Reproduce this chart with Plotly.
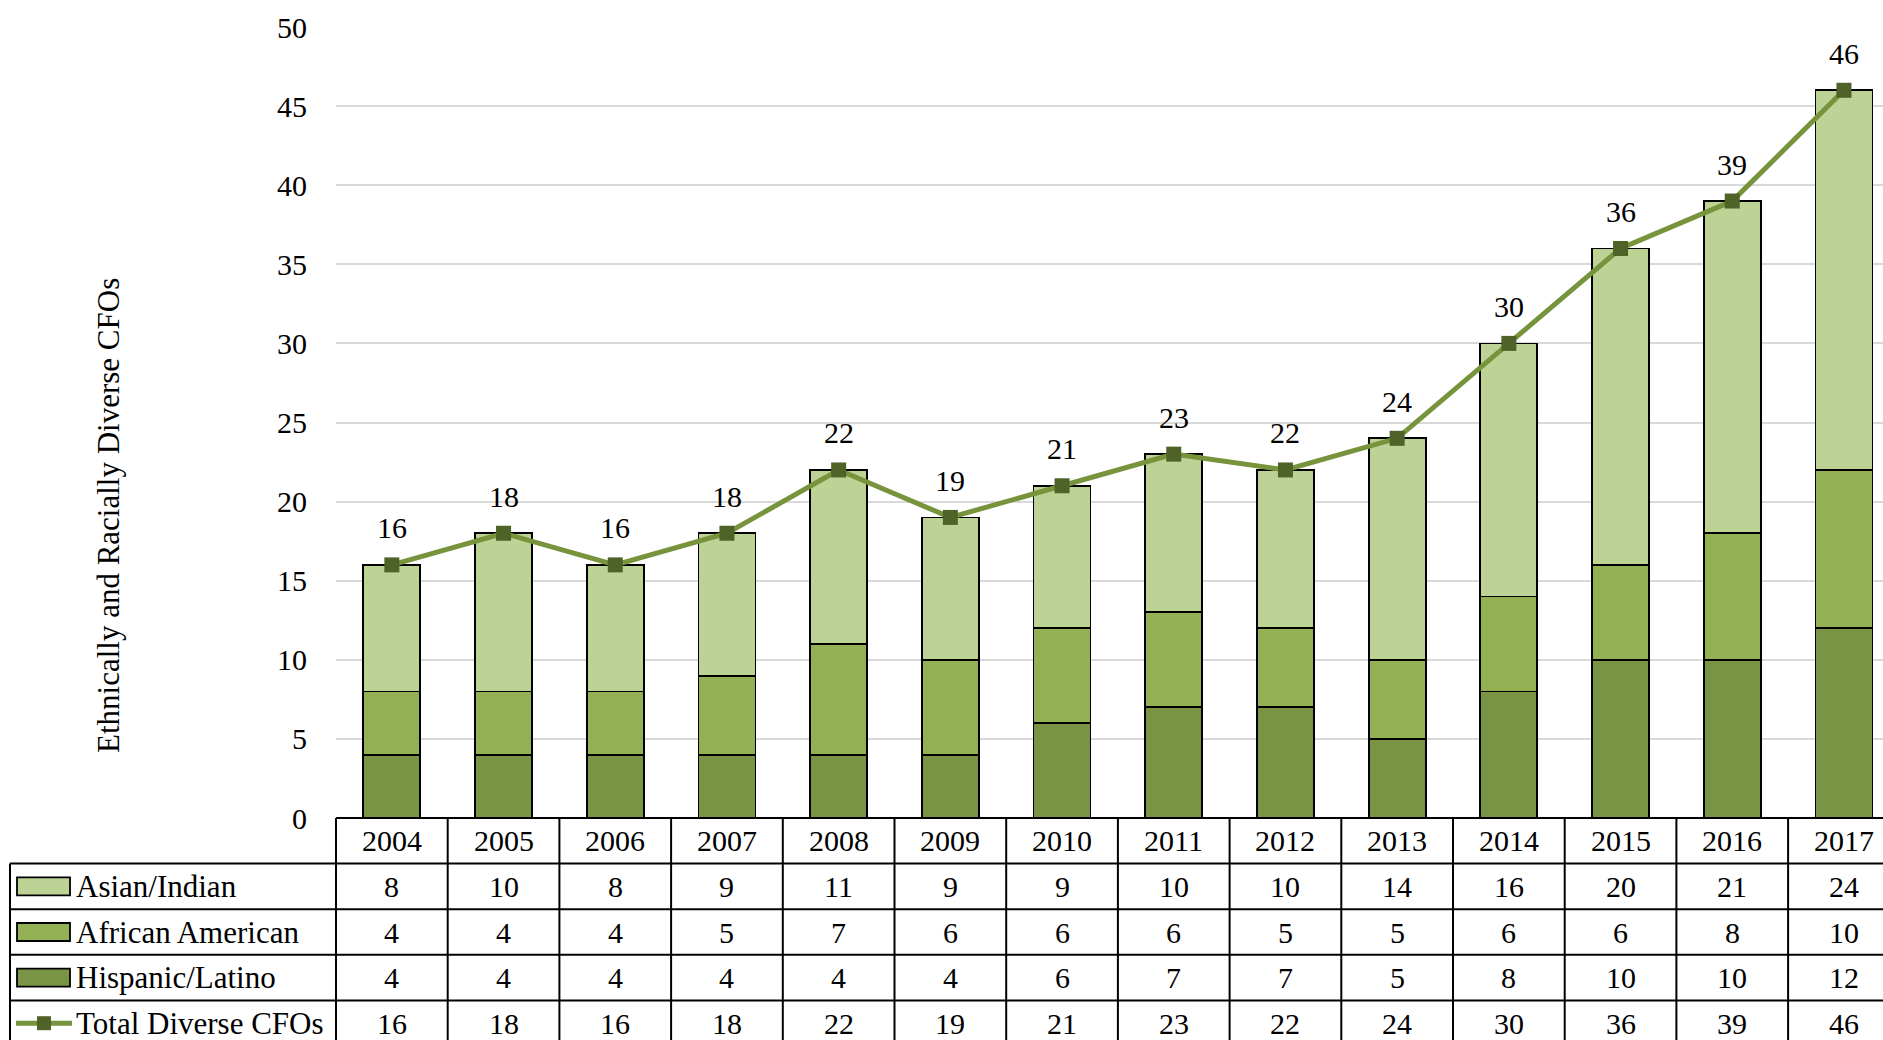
import plotly.graph_objects as go

# ---- data -------------------------------------------------------------
years = ["2004", "2005", "2006", "2007", "2008", "2009", "2010",
         "2011", "2012", "2013", "2014", "2015", "2016", "2017"]
asian_indian = [8, 10, 8, 9, 11, 9, 9, 10, 10, 14, 16, 20, 21, 24]
african_american = [4, 4, 4, 5, 7, 6, 6, 6, 5, 5, 6, 6, 8, 10]
hispanic_latino = [4, 4, 4, 4, 4, 4, 6, 7, 7, 5, 8, 10, 10, 12]
total_diverse = [16, 18, 16, 18, 22, 19, 21, 23, 22, 24, 30, 36, 39, 46]

y_ticks = [0, 5, 10, 15, 20, 25, 30, 35, 40, 45, 50]

# ---- styling ----------------------------------------------------------
FONT = "Liberation Serif, serif"
FS = 30
C_LIGHT = "#BDD395"
C_MID = "#93B054"
C_DARK = "#7A9445"
C_LINE = "#77933C"
C_MARK = "#4F6228"

W, H = 1883, 1040
M_L, M_R, M_T, M_B = 336, 0, 27, 222
PLOT_W = W - M_L - M_R
PLOT_H = H - M_T - M_B
COL_W = 111.7                      # width of one category column in px
X_MAX = -0.5 + PLOT_W / COL_W      # last column runs past the right edge
ROW_PX = 45.6                      # data-table row height in px


def px_x(px):
    """pixel x -> paper x"""
    return (px - M_L) / PLOT_W


def px_y(py):
    """pixel y -> paper y"""
    return (H - M_B - py) / PLOT_H


def col_x(i):
    """category index -> paper x"""
    return (i + 0.5) / (X_MAX + 0.5)


idx = list(range(len(years)))

fig = go.Figure()

series = [
    ("Hispanic/Latino", hispanic_latino, C_DARK),
    ("African American", african_american, C_MID),
    ("Asian/Indian", asian_indian, C_LIGHT),
]
for name, vals, col in series:
    fig.add_trace(go.Bar(
        x=idx, y=vals, name=name, width=0.51,
        marker=dict(color=col, line=dict(color="black", width=1.8)),
        showlegend=False,
    ))

fig.add_trace(go.Scatter(
    x=idx, y=total_diverse, mode="lines+markers", name="Total Diverse CFOs",
    line=dict(color=C_LINE, width=5),
    marker=dict(symbol="square", size=15, color=C_MARK),
    showlegend=False, cliponaxis=False,
))

annotations = []
shapes = []
TXT = dict(family=FONT, size=FS, color="black")

# value labels above the line
for i, v in zip(idx, total_diverse):
    annotations.append(dict(
        x=i, y=v, xref="x", yref="y", text=str(v), showarrow=False,
        xanchor="center", yanchor="middle", yshift=37, font=TXT,
    ))

# ---- data table -------------------------------------------------------
y0 = H - M_B                       # pixel y of the x axis
row_tops = [y0 + k * ROW_PX for k in range(6)]

# year header row
for i, yr in zip(idx, years):
    annotations.append(dict(
        x=col_x(i), y=px_y(y0 + ROW_PX / 2), xref="paper", yref="paper",
        xanchor="center", yanchor="middle",
        text=yr, showarrow=False, font=TXT,
    ))

table_rows = [
    ("Asian/Indian", asian_indian, "bar", C_LIGHT),
    ("African American", african_american, "bar", C_MID),
    ("Hispanic/Latino", hispanic_latino, "bar", C_DARK),
    ("Total Diverse CFOs", total_diverse, "line", None),
]
for r, (label, vals, kind, col) in enumerate(table_rows):
    cy = row_tops[r + 1] + ROW_PX / 2
    for i, v in zip(idx, vals):
        annotations.append(dict(
            x=col_x(i), y=px_y(cy), xref="paper", yref="paper",
            xanchor="center", yanchor="middle",
            text=str(v), showarrow=False, font=TXT,
        ))
    annotations.append(dict(
        x=px_x(74), y=px_y(cy), xref="paper", yref="paper",
        xanchor="left", yanchor="middle",
        text=label, showarrow=False,
        font=dict(family=FONT, size=31, color="black"),
    ))
    if kind == "bar":
        shapes.append(dict(
            type="rect", xref="paper", yref="paper",
            x0=px_x(17), x1=px_x(70), y0=px_y(cy - 9), y1=px_y(cy + 9),
            fillcolor=col, line=dict(color="black", width=1.8),
        ))
    else:
        shapes.append(dict(
            type="line", xref="paper", yref="paper",
            x0=px_x(16), x1=px_x(72), y0=px_y(cy), y1=px_y(cy),
            line=dict(color=C_LINE, width=5),
        ))
        shapes.append(dict(
            type="rect", xref="paper", yref="paper",
            x0=px_x(37), x1=px_x(51), y0=px_y(cy - 7), y1=px_y(cy + 7),
            fillcolor=C_MARK, line=dict(width=0),
        ))

LINE = dict(color="black", width=2)
x_right = col_x(X_MAX + 0.5)
# horizontal rules
shapes.append(dict(type="line", xref="paper", yref="paper",
                   x0=0, x1=x_right, y0=px_y(row_tops[0]), y1=px_y(row_tops[0]),
                   line=LINE))
for k in range(1, 6):
    shapes.append(dict(type="line", xref="paper", yref="paper",
                       x0=px_x(10), x1=x_right,
                       y0=px_y(row_tops[k]), y1=px_y(row_tops[k]), line=LINE))
# vertical rules
shapes.append(dict(type="line", xref="paper", yref="paper",
                   x0=px_x(10), x1=px_x(10),
                   y0=px_y(row_tops[1]), y1=px_y(row_tops[5]), line=LINE))
for i in range(len(years) + 1):
    shapes.append(dict(type="line", xref="paper", yref="paper",
                       x0=col_x(i - 0.5), x1=col_x(i - 0.5),
                       y0=px_y(row_tops[0]), y1=px_y(row_tops[5]), line=LINE))

# axis title
annotations.append(dict(
    x=px_x(108), y=px_y(516), xref="paper", yref="paper",
    xanchor="center", yanchor="middle",
    text="Ethnically and Racially Diverse CFOs", textangle=-90,
    showarrow=False, font=dict(family=FONT, size=31, color="black"),
))

fig.update_layout(
    barmode="stack",
    width=W, height=H,
    margin=dict(l=M_L, r=M_R, t=M_T, b=M_B, pad=0),
    paper_bgcolor="white", plot_bgcolor="white",
    font=TXT,
    xaxis=dict(range=[-0.5, X_MAX], showticklabels=False,
               showgrid=False, zeroline=False, showline=False, ticks=""),
    yaxis=dict(range=[0, 50], tickvals=y_ticks, showgrid=True,
               gridcolor="#D9D9D9", gridwidth=1.5, zeroline=False,
               showline=False, ticks="", ticklabelstandoff=28,
               tickfont=TXT),
    shapes=shapes,
    annotations=annotations,
)

fig.write_html("out.html")
